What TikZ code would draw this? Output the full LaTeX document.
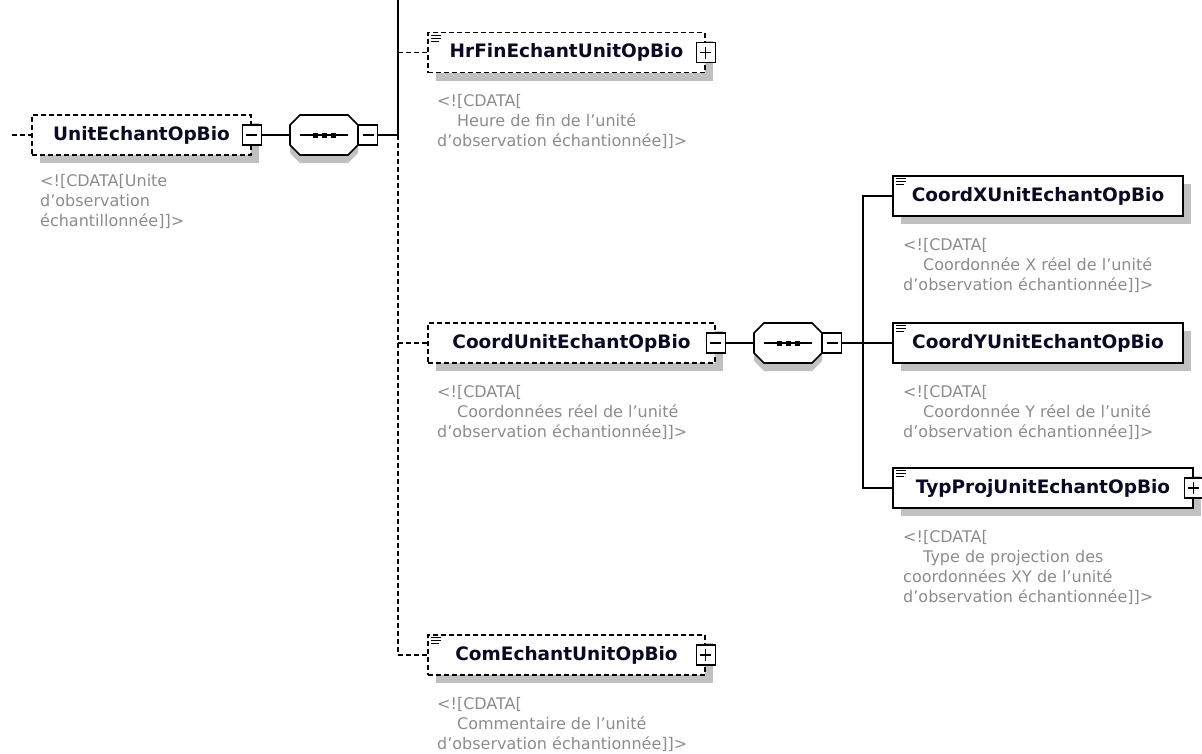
\documentclass[tikz,border=0pt]{standalone}
\usepackage{fontspec}
\setmainfont{DejaVu Sans}
\usetikzlibrary{calc}
\definecolor{shadowc}{RGB}{192,192,192}
\definecolor{cgray}{RGB}{140,140,140}
\definecolor{namec}{RGB}{10,10,35}
\newcommand\seqcomp[3]{%
\begin{scope}[shift={(#2,#3)}]
 \fill[shadowc] (-24,-12)--(24,-12)--(34,-2)--(34,18)--(24,28)--(-24,28)--(-34,18)--(-34,-2)--cycle;
 \filldraw[fill=white,lw] (-24,-20)--(24,-20)--(34,-10)--(34,10)--(24,20)--(-24,20)--(-34,10)--(-34,-10)--cycle;
 \draw[lw] (-24,0)--(24,0);
 \fill (-11.5,-2.5) rectangle (-6.5,2.5);
 \fill (-2.5,-2.5) rectangle (2.5,2.5);
 \fill (6.5,-2.5) rectangle (11.5,2.5);
 \node[inner sep=0,minimum width=68pt,minimum height=40pt] (#1) at (0,0) {};
 \node[minusbox] (#1m) at (44,0) {};
\end{scope}}
\newcommand\docicon[1]{%
 \draw[line width=1.1pt] ([xshift=4pt,yshift=-3.5pt]#1.north west) -- ++(10pt,0pt);
 \draw[line width=1.1pt] ([xshift=4pt,yshift=-6.5pt]#1.north west) -- ++(10pt,0pt);
 \draw[line width=1.1pt] ([xshift=4pt,yshift=-9.5pt]#1.north west) -- ++(8pt,0pt);}
\begin{document}
\begin{tikzpicture}[x=1pt,y=-1pt,
  lw/.style={line width=1.6pt},
  shadowed/.style={preaction={fill=shadowc,draw=none,transform canvas={shift={(8pt,-8pt)}}}},
  elem/.style={draw,lw,fill=white,shadowed,inner sep=0,minimum height=40pt,
     font=\fontsize{18.5}{22}\selectfont\bfseries,text=namec},
  optelem/.style={elem,dash pattern=on 5pt off 3pt},
  expbox/.style={draw,lw,fill=white,inner sep=0,minimum width=19pt,minimum height=20pt},
  minusbox/.style={expbox,path picture={\draw[line width=1.3pt]
     ([xshift=4pt]path picture bounding box.west) -- ([xshift=-4pt]path picture bounding box.east);}},
  plusbox/.style={expbox,path picture={\draw[line width=1.3pt]
     ([xshift=4pt]path picture bounding box.west) -- ([xshift=-4pt]path picture bounding box.east)
     ([yshift=-4pt]path picture bounding box.north) -- ([yshift=4pt]path picture bounding box.south);}},
  conn/.style={lw},
  optconn/.style={lw,dash pattern=on 5pt off 3pt},
  cdata/.style={inner sep=0,anchor=north west,align=left,text=cgray,
     font=\fontsize{16}{20}\selectfont},
]
\useasboundingbox (0,0) rectangle (1202,753);

% root element
\coordinate (lead) at (12,135);
\node[optelem,minimum width=219pt] (root) at (141.5,135) {UnitEchantOpBio\hspace{11pt}};
\node[minusbox] (rootm) at (root.east) {};
\node[cdata] (rootc) at (40,174) {<![CDATA[Unite\\d'observation\\échantillonnée]]>};
\seqcomp{seq1}{324}{135}

% junctions of the first sequence
\coordinate (vtop) at (398,0);
\coordinate (j0) at (398,52.5);
\coordinate (j1) at (398,135);
\coordinate (j2) at (398,343);
\coordinate (j3) at (398,655);

% HrFinEchantUnitOpBio
\node[optelem,minimum width=277pt] (hr) at (566.5,52.5) {HrFinEchantUnitOpBio\hspace{9pt}};
\docicon{hr}
\node[plusbox] (hrp) at (hr.east) {};
\node[cdata] (hrc) at (437,94) {<![CDATA[\\\hspace*{20pt}Heure de fin de l'unité\\d'observation échantionnée]]>};

% CoordUnitEchantOpBio
\node[optelem,minimum width=287pt] (cu) at (571.5,343) {CoordUnitEchantOpBio\hspace{12pt}};
\node[minusbox] (cum) at (cu.east) {};
\node[cdata] (cuc) at (437,385) {<![CDATA[\\\hspace*{20pt}Coordonnées réel de l'unité\\d'observation échantionnée]]>};
\seqcomp{seq2}{788}{343}

\coordinate (k1) at (863,196);
\coordinate (k2) at (863,343);
\coordinate (k3) at (863,488);

% CoordX / CoordY / TypProj
\node[elem,minimum width=290pt] (cx) at (1038,196) {CoordXUnitEchantOpBio};
\docicon{cx}
\node[cdata] (cxc) at (903,238) {<![CDATA[\\\hspace*{20pt}Coordonnée X réel de l'unité\\d'observation échantionnée]]>};

\node[elem,minimum width=290pt] (cy) at (1038,343) {CoordYUnitEchantOpBio};
\docicon{cy}
\node[cdata] (cyc) at (903,385) {<![CDATA[\\\hspace*{20pt}Coordonnée Y réel de l'unité\\d'observation échantionnée]]>};

\node[elem,minimum width=300pt] (tp) at (1043,488) {TypProjUnitEchantOpBio\hspace{6pt}};
\docicon{tp}
\node[plusbox] (tpp) at (tp.east) {};
\node[cdata] (tpc) at (903,530) {<![CDATA[\\\hspace*{20pt}Type de projection des\\coordonnées XY de l'unité\\d'observation échantionnée]]>};

% ComEchantUnitOpBio
\node[optelem,minimum width=277pt] (ce) at (566.5,655) {ComEchantUnitOpBio\hspace{10pt}};
\docicon{ce}
\node[plusbox] (cep) at (ce.east) {};
\node[cdata] (cec) at (437,697) {<![CDATA[\\\hspace*{20pt}Commentaire de l'unité\\d'observation échantionnée]]>};

% connectors
\draw[optconn] (lead) -- (root.west);
\draw[conn] (rootm.east) -- (seq1.west);
\draw[conn] (seq1m.east) -- (j1);
\draw[conn] (vtop) -- (j1);
\draw[optconn] (j1) -- (j3);
\draw[optconn] (j0) -- (hr.west);
\draw[optconn] (j2) -- (cu.west);
\draw[optconn] (j3) -- (ce.west);
\draw[conn] (cum.east) -- (seq2.west);
\draw[conn] (seq2m.east) -- (k2);
\draw[conn] (k2) -- (cy.west);
\draw[conn] (cx.west) -- (k1) -- (k3) -- (tp.west);
\end{tikzpicture}
\end{document}
